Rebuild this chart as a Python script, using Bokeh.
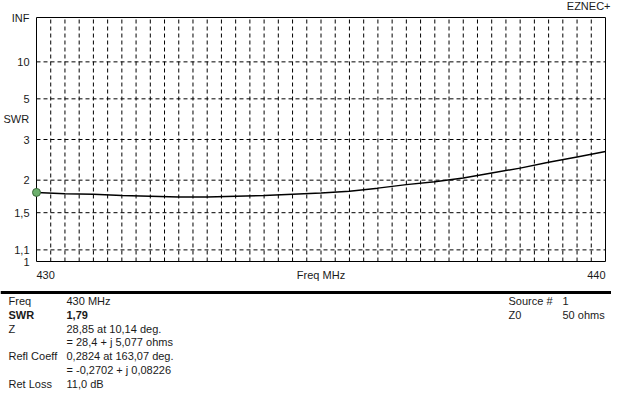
import numpy as np
from bokeh.plotting import figure
from bokeh.models import Range1d, Span
from bokeh.embed import file_html
from bokeh.resources import INLINE

# ---- data ----
freq_mhz = [430.0, 430.5, 431.0, 431.5, 432.0, 432.5, 433.0, 433.5, 434.0, 434.5,
            435.0, 435.5, 436.0, 436.5, 437.0, 437.5, 438.0, 438.5, 439.0, 439.5, 440.0]
swr = [1.79, 1.77, 1.76, 1.74, 1.73, 1.72, 1.72, 1.73, 1.74, 1.76,
       1.78, 1.81, 1.86, 1.92, 1.97, 2.04, 2.14, 2.24, 2.37, 2.50, 2.64]
swr_tick_values = [1.0, 1.1, 1.5, 2.0, 3.0, 5.0, 10.0, float("inf")]
swr_tick_labels = ["1", "1,1", "1,5", "2", "3", "5", "10", "INF"]
swr_grid_values = [1.1, 1.5, 2.0, 3.0, 5.0, 10.0]
freq_start, freq_end, freq_grid_step = 430.0, 440.0, 0.25
freq_tick_labels = ["430", "440"]
marker_freq = [430.0]
marker_swr = [1.79]
info_names = ["Freq", "SWR", "Z", "", "Refl Coeff", "", "Ret Loss"]
info_values = ["430 MHz", "1,79", "28,85 at 10,14 deg.", "= 28,4 + j 5,077 ohms",
               "0,2824 at 163,07 deg.", "= -0,2702 + j 0,08226", "11,0 dB"]
src_names = ["Source #", "Z0"]
src_values = ["1", "50 ohms"]

FONT = "Liberation Sans"
FS = "11px"
TXT = "#1a1a1a"


def rho(s):
    return 1.0 if np.isinf(s) else (s - 1.0) / (s + 1.0)


# ---- canvas geometry (figure pixels) ----
W, H = 611, 390
LEFT, RIGHT, TOP, BOTTOM = 36, 605, 17, 261
sx = (RIGHT - LEFT) / (freq_end - freq_start)
sy = float(BOTTOM - TOP)


def fx(px):
    return freq_start + (px - LEFT) / sx


def fy(py):
    return 1.0 - (py - TOP) / sy


p = figure(width=W, height=H, x_range=Range1d(fx(0), fx(W)), y_range=Range1d(fy(H), fy(0)),
           output_backend="svg", toolbar_location=None, min_border=0,
           background_fill_color="white", border_fill_color="white")
p.axis.visible = False
p.grid.visible = False
p.outline_line_color = None

# grid
vgrid = list(np.arange(freq_start + freq_grid_step, freq_end - 1e-9, freq_grid_step))
p.segment(x0=vgrid, x1=vgrid, y0=[0.0] * len(vgrid), y1=[1.0] * len(vgrid),
          line_color="black", line_width=1, line_dash="4 3")
hgrid = [rho(v) for v in swr_grid_values]
p.segment(x0=[freq_start] * len(hgrid), x1=[freq_end] * len(hgrid), y0=hgrid, y1=hgrid,
          line_color="black", line_width=1, line_dash="4 3")
# frame
p.quad(left=[freq_start], right=[freq_end], bottom=[0.0], top=[1.0],
       fill_color=None, line_color="black", line_width=1)

# curve and marker
p.line(freq_mhz, [rho(s) for s in swr], line_color="black", line_width=1.5)
p.scatter(marker_freq, [rho(s) for s in marker_swr], size=8, fill_color="#6db06d",
          line_color="#3d6b3d", line_width=1)

tkw = dict(text_font={"value": FONT}, text_font_size={"value": FS}, text_color=TXT,
           text_baseline="middle")
# y tick labels
p.text(x=[freq_start] * len(swr_tick_values), y=[rho(v) for v in swr_tick_values],
       text=swr_tick_labels, text_align="right", x_offset=-7, **tkw)
# x labels
p.text(x=[freq_start], y=[0.0], text=[freq_tick_labels[0]], text_align="left", y_offset=13, **tkw)
p.text(x=[freq_end], y=[0.0], text=[freq_tick_labels[1]], text_align="right", y_offset=13, **tkw)
p.text(x=[(freq_start + freq_end) / 2], y=[0.0], text=["Freq MHz"], text_align="center", y_offset=13, **tkw)
p.text(x=[fx(3)], y=[fy(118)], text=["SWR"], text_align="left", **tkw)
p.text(x=[fx(610)], y=[fy(5)], text=["EZNEC+"], text_align="right", **tkw)

# info panel
p.add_layout(Span(location=fy(292), dimension="width", line_color="black", line_width=3))
row0, row_h = 300.5, 13.8
for i, (n, v) in enumerate(zip(info_names, info_values)):
    style = "bold" if n == "SWR" else "normal"
    y = fy(row0 + i * row_h)
    if n:
        p.text(x=[fx(8)], y=[y], text=[n], text_align="left", text_font_style=style, **tkw)
    p.text(x=[fx(66)], y=[y], text=[v], text_align="left", text_font_style=style, **tkw)
for i, (n, v) in enumerate(zip(src_names, src_values)):
    y = fy(row0 + i * row_h)
    p.text(x=[fx(508)], y=[y], text=[n], text_align="left", **tkw)
    p.text(x=[fx(562)], y=[y], text=[v], text_align="left", **tkw)

open("out.html", "w").write(file_html(p, INLINE))
